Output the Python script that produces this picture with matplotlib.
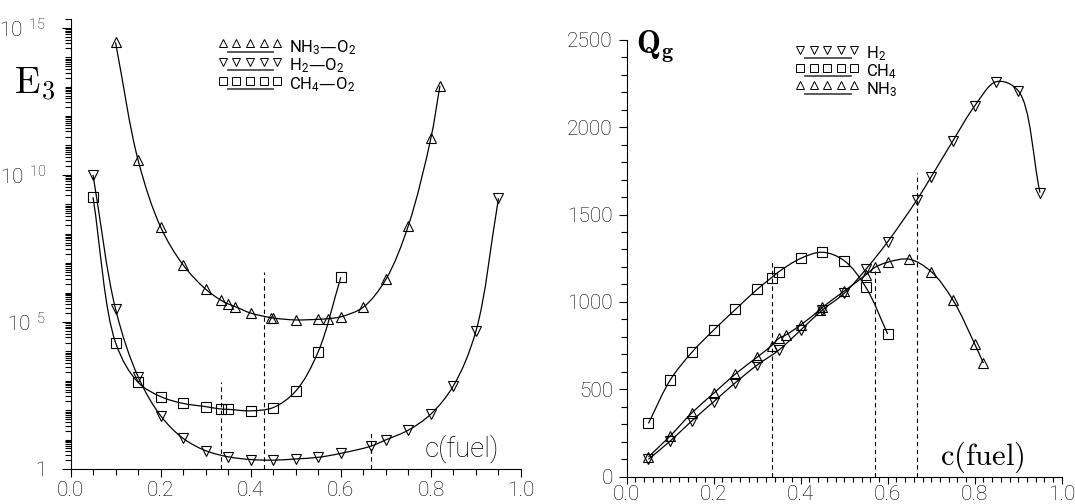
import numpy as np
import matplotlib
matplotlib.use('Agg')
import matplotlib.pyplot as plt
from matplotlib.path import Path
from matplotlib.patches import PathPatch
from matplotlib.lines import Line2D
from matplotlib.legend_handler import HandlerBase
from matplotlib.transforms import IdentityTransform
import matplotlib.ticker as mticker

plt.rcParams['font.family'] = ['Roboto', 'DejaVu Sans']
plt.rcParams['font.weight'] = 'light'

# ---------------- data: left panel (E3, log scale) ----------------
nh3_c_left = [0.10, 0.15, 0.20, 0.25, 0.30, 0.333, 0.35, 0.366, 0.40, 0.444, 0.45,
              0.50, 0.55, 0.571, 0.60, 0.65, 0.70, 0.75, 0.80, 0.82]
nh3_E3 = [3.2e14, 3.2e10, 1.7e8, 8.7e6, 1.3e6, 5.6e5, 4.1e5, 3.3e5, 2.0e5, 1.4e5, 1.35e5,
          1.17e5, 1.23e5, 1.29e5, 1.5e5, 3.2e5, 2.8e6, 1.9e8, 1.8e11, 1.07e13]

h2_c_left = [0.05, 0.10, 0.15, 0.20, 0.25, 0.30, 0.35, 0.40, 0.45, 0.50, 0.55, 0.60,
             0.667, 0.70, 0.75, 0.80, 0.85, 0.90, 0.95]
h2_E3 = [1.0e10, 2.75e5, 1.38e3, 65, 11, 4.2, 2.6, 2.1, 2.0, 2.2, 2.5, 3.4,
         6.0, 9.8, 21, 74, 680, 4.9e4, 1.6e9]

ch4_c_left = [0.05, 0.10, 0.15, 0.20, 0.25, 0.30, 0.333, 0.35, 0.40, 0.45, 0.50, 0.55, 0.60]
ch4_E3 = [1.74e9, 2.0e4, 890, 290, 170, 132, 110, 107, 95, 123, 447, 9.8e3, 3.3e6]

stoich_c_left = [1/3, 3/7, 2/3]
stoich_top_left = [900, 5.1e6, 20]

# ---------------- data: right panel (Qg, linear) ----------------
h2_c_right = [0.05, 0.10, 0.15, 0.20, 0.25, 0.30, 0.35, 0.40, 0.45, 0.50, 0.55, 0.60,
              0.667, 0.70, 0.75, 0.80, 0.85, 0.90, 0.95]
h2_Qg = [100, 204, 320, 429, 538, 639, 725, 839, 954, 1049, 1187, 1344,
         1583, 1716, 1922, 2121, 2260, 2208, 1625]

ch4_c_right = [0.05, 0.10, 0.15, 0.20, 0.25, 0.30, 0.333, 0.35, 0.40, 0.45, 0.50, 0.55, 0.60]
ch4_Qg = [305, 553, 712, 839, 957, 1072, 1139, 1173, 1249, 1284, 1236, 1083, 816]

nh3_c_right = [0.05, 0.10, 0.15, 0.20, 0.25, 0.30, 0.333, 0.35, 0.366, 0.40, 0.444, 0.45,
               0.50, 0.55, 0.571, 0.60, 0.65, 0.70, 0.75, 0.80, 0.82]
nh3_Qg = [114, 233, 366, 477, 588, 684, 750, 792, 811, 868, 955, 969,
          1062, 1155, 1198, 1227, 1244, 1173, 1011, 759, 650]

stoich_c_right = [1/3, 4/7, 2/3]
stoich_top_right = [1230, 1175, 1735]

left_labels = [r'$\mathregular{NH_3}$—$\mathregular{O_2}$',
               r'$\mathregular{H_2}$—$\mathregular{O_2}$',
               r'$\mathregular{CH_4}$—$\mathregular{O_2}$']
right_labels = [r'$\mathregular{H_2}$', r'$\mathregular{CH_4}$', r'$\mathregular{NH_3}$']
xtick_vals = [0.0, 0.2, 0.4, 0.6, 0.8, 1.0]
xtick_labels = ['0.0', '0.2', '0.4', '0.6', '0.8', '1.0']
ytick_left_vals = [1, 1e5, 1e10, 1e15]
ytick_left_labels = ['1', r'$\mathregular{10\ ^{5}}$', r'$\mathregular{10\ ^{10}}$',
                     r'$\mathregular{10\ ^{15}}$']

W, H = 1075, 504
fig = plt.figure(figsize=(W / 100, H / 100), dpi=100)


def px_axes(x0, y_bottom, x1, y_top):
    return fig.add_axes([x0 / W, 1 - y_bottom / H, (x1 - x0) / W, (y_bottom - y_top) / H])


axL = px_axes(70.5, 469, 521, 19)
axR = px_axes(626.7, 476.7, 1061.7, 39.7)

LW = 0.9
MEW = 0.8


def smooth_curve(ax, xs, ys):
    pts = ax.transData.transform(np.column_stack([xs, ys]))
    n = len(pts)
    P = np.vstack([2 * pts[0] - pts[1], pts, 2 * pts[-1] - pts[-2]])
    verts = [pts[0]]
    codes = [Path.MOVETO]
    a = 0.5
    for i in range(1, n):
        p0, p1, p2, p3 = P[i - 1], P[i], P[i + 1], P[i + 2]
        d1 = max(np.linalg.norm(p1 - p0) ** a, 1e-6)
        d2 = max(np.linalg.norm(p2 - p1) ** a, 1e-6)
        d3 = max(np.linalg.norm(p3 - p2) ** a, 1e-6)
        m1 = d2 * ((p1 - p0) / d1 - (p2 - p0) / (d1 + d2) + (p2 - p1) / d2)
        m2 = d2 * ((p2 - p1) / d2 - (p3 - p1) / (d2 + d3) + (p3 - p2) / d3)
        verts += [p1 + m1 / 3, p2 - m2 / 3, p2]
        codes += [Path.CURVE4] * 3
    patch = PathPatch(Path(verts, codes), transform=IdentityTransform(), fill=False,
                      edgecolor='black', lw=LW, zorder=2)
    ax.add_artist(patch)


class UnderlineHandler(HandlerBase):
    def create_artists(self, legend, orig_handle, xdescent, ydescent, width, height,
                       fontsize, trans):
        n = 5
        xs = np.linspace(-xdescent + width * 0.06, -xdescent + width * 0.94, n)
        ym = -ydescent + height * 0.72
        yl = -ydescent + height * 0.02
        mk = Line2D(xs, [ym] * n, marker=orig_handle.get_marker(), ms=5.4,
                    mfc='none', mec='black', mew=0.7, ls='none', transform=trans)
        ln = Line2D([xs[0] + width * 0.08, xs[-1] - width * 0.06], [yl, yl],
                    color='0.3', lw=1.3, transform=trans)
        return [ln, mk]


def style_axes(ax):
    for s in ['top', 'right']:
        ax.spines[s].set_visible(False)
    for s in ['left', 'bottom']:
        ax.spines[s].set_linewidth(0.8)
    ax.tick_params(which='both', direction='out', width=0.8, labelsize=15)
    ax.set_xlim(0, 1)
    ax.set_xticks(xtick_vals)
    ax.set_xticklabels(xtick_labels)


legend_prop = {'size': 12, 'weight': 'normal'}

# ---------------- left panel ----------------
style_axes(axL)
axL.set_yscale('log')
axL.set_ylim(1, 2e15)
axL.yaxis.set_major_locator(mticker.FixedLocator(ytick_left_vals))
axL.yaxis.set_major_formatter(mticker.FixedFormatter(ytick_left_labels))
axL.yaxis.set_minor_locator(mticker.LogLocator(base=10, subs=np.arange(1, 10), numticks=200))
axL.yaxis.set_minor_formatter(mticker.NullFormatter())
axL.xaxis.set_minor_locator(mticker.MultipleLocator(0.05))
axL.tick_params(axis='y', which='major', length=6.3, pad=11)
axL.tick_params(axis='y', which='minor', length=4.3)
axL.tick_params(axis='x', which='major', length=5.5, pad=3)
axL.tick_params(axis='x', which='minor', length=4.3)

series_left = [(nh3_c_left, nh3_E3, '^', 7.5), (h2_c_left, h2_E3, 'v', 7.5),
               (ch4_c_left, ch4_E3, 's', 6.5)]
handlesL = []
for xs, ys, m, ms in series_left:
    smooth_curve(axL, xs, ys)
    h, = axL.plot(xs, ys, ls='none', marker=m, ms=ms, mfc='none', mec='black', mew=MEW,
                  zorder=3)
    handlesL.append(h)
axL.vlines(stoich_c_left, 1, stoich_top_left, colors='black', linestyles=(0, (4, 3)), lw=0.8)
axL.text(0.785, 0.045, 'c(fuel)', transform=axL.transAxes, fontsize=20, ha='left', va='center')
axL.legend(handlesL, left_labels, handler_map={Line2D: UnderlineHandler()},
           loc='upper left', bbox_to_anchor=(0.33, 0.958), frameon=False, prop=legend_prop,
           handlelength=3.7, handletextpad=0.5, labelspacing=0.0, borderaxespad=0,
           borderpad=0)

# ---------------- right panel ----------------
style_axes(axR)
axR.set_ylim(0, 2500)
axR.set_yticks([0, 500, 1000, 1500, 2000, 2500])
axR.yaxis.set_minor_locator(mticker.MultipleLocator(100))
axR.xaxis.set_minor_locator(mticker.MultipleLocator(0.02))
axR.tick_params(axis='y', which='major', length=6, pad=4)
axR.tick_params(axis='y', which='minor', length=4)
axR.tick_params(axis='x', which='major', length=5, pad=1)
axR.tick_params(axis='x', which='minor', length=3.6)

series_right = [(h2_c_right, h2_Qg, 'v', 7.5), (ch4_c_right, ch4_Qg, 's', 6.5),
                (nh3_c_right, nh3_Qg, '^', 7.5)]
handlesR = []
for xs, ys, m, ms in series_right:
    smooth_curve(axR, xs, ys)
    h, = axR.plot(xs, ys, ls='none', marker=m, ms=ms, mfc='none', mec='black', mew=MEW,
                  zorder=3)
    handlesR.append(h)
axR.vlines(stoich_c_right, 0, stoich_top_right, colors='black', linestyles=(0, (4, 3)), lw=0.8)
axR.text(0.72, 0.045, r'$\mathrm{c(fuel)}$', transform=axR.transAxes, fontsize=22,
         ha='left', va='center', math_fontfamily='cm')
axR.legend(handlesR, right_labels, handler_map={Line2D: UnderlineHandler()},
           loc='upper left', bbox_to_anchor=(0.39, 0.99), frameon=False, prop=legend_prop,
           handlelength=3.7, handletextpad=0.5, labelspacing=-0.05, borderaxespad=0,
           borderpad=0)

# axis titles
fig.text(14 / W, 1 - 84 / H, r'$\mathrm{E_3}$', fontsize=27, math_fontfamily='cm',
         ha='left', va='center')
fig.text(636 / W, 1 - 47 / H, r'$\mathbf{Q_g}$', fontsize=23, math_fontfamily='cm',
         ha='left', va='center')

fig.savefig('out.png', dpi=100)
